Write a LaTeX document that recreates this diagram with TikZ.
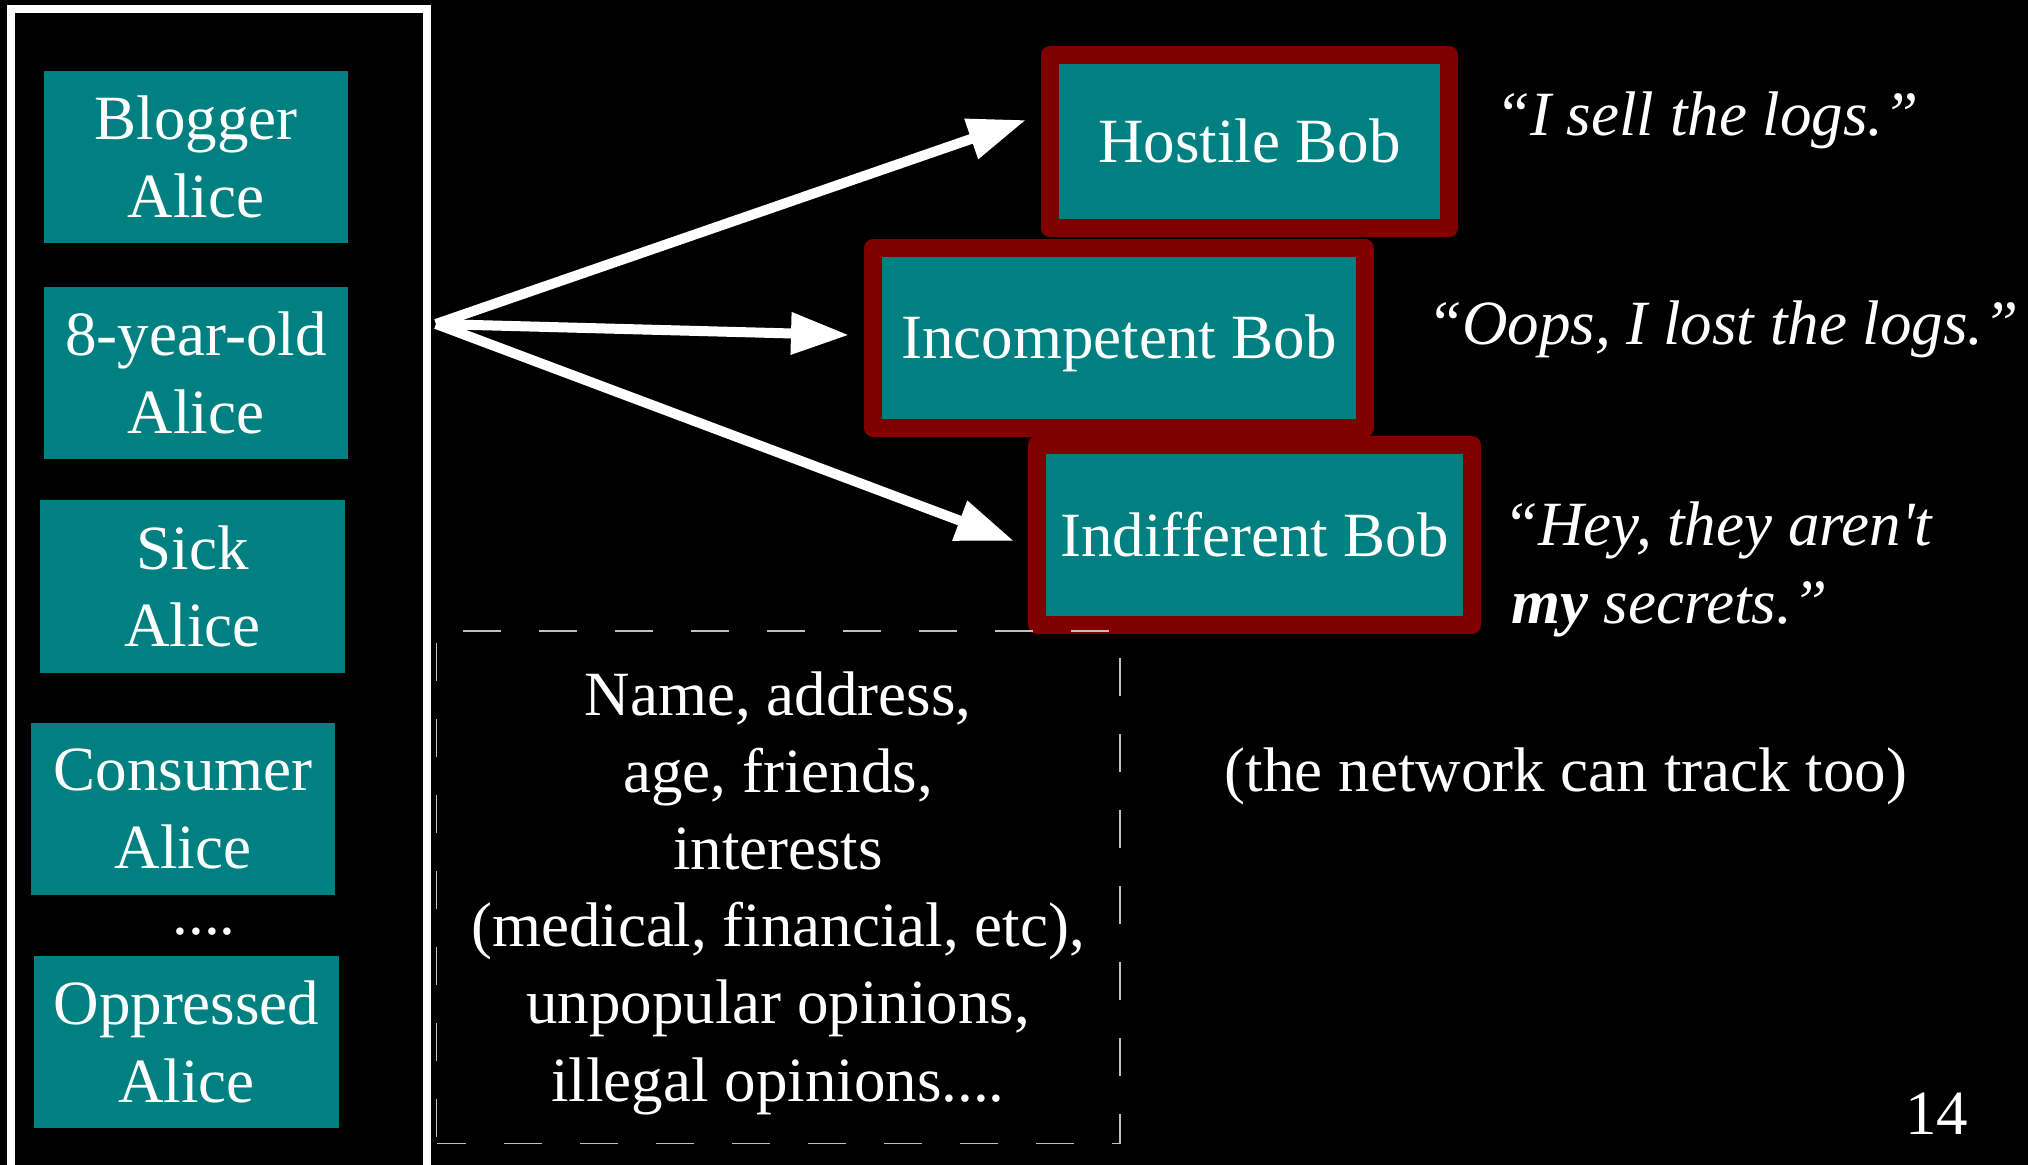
\documentclass[tikz,border=0pt]{standalone}
\usepackage{fontspec}
\setmainfont{Liberation Serif}
\usetikzlibrary{arrows.meta}
\definecolor{slideteal}{HTML}{008080}
\definecolor{slidemaroon}{HTML}{800000}
\definecolor{dashgray}{gray}{0.75}

\begin{document}
\begin{tikzpicture}[x=0.5pt, y=-0.5pt,
  every node/.style={text=white, font=\fontsize{31.5pt}{38.6pt}\selectfont, inner sep=0pt, outer sep=0pt},
  alice/.style={fill=slideteal, align=center, minimum width=152pt, minimum height=86pt},
  bob/.style={fill=slideteal, draw=slidemaroon, line width=9pt, line join=round, text height=21pt, text depth=0pt},
  quote/.style={font=\fontsize{31.5pt}{39pt}\selectfont\itshape, anchor=base west},
  plain/.style={anchor=base},
  link/.style={draw=white, line width=5pt, -{Triangle[length=29pt,width=20pt]}},
  frame/.style={draw=white, line width=4pt},
  infobox/.style={draw=dashgray, line width=0.8pt, dash pattern=on 19pt off 19pt, dash phase=4.5pt}
]
\useasboundingbox (0,0) rectangle (2028,1165);
\fill[black] (0,0) rectangle (2028,1165);

% the group of Alices, framed in white and running off the bottom edge
\node[frame, minimum width=208pt, minimum height=583pt] (alices) at (219,592) {};
\node[alice] (blogger) at (196,157) {Blogger\\Alice};
\node[alice] (eight) at (196,373) {8-year-old\\Alice};
\node[alice, minimum width=152.5pt] (sick) at (192.5,586.5) {Sick\\Alice};
\node[alice] (consumer) at (183,809) {Consumer\\Alice};
\node[plain] (more) at (204,934) {....};
\node[alice, minimum width=152.5pt] (oppressed) at (186.5,1042) {Oppressed\\Alice};

% the three Bobs
\node[bob, minimum width=199.5pt, minimum height=86.5pt] (hostile) at (1249.5,141.5) {Hostile Bob};
\node[bob, minimum width=246pt, minimum height=90pt] (incompetent) at (1119,338) {Incompetent Bob};
\node[bob, minimum width=217.5pt, minimum height=89.75pt] (indifferent) at (1254.5,535.25) {Indifferent Bob};

% arrows fanning out from the Alice group
\coordinate (src) at (436,324);
\coordinate (tipH) at (1026,120);
\coordinate (tipC) at (849,335);
\coordinate (tipD) at (1014,541);
\draw[link] (src) -- (tipH);
\draw[link] (src) -- (tipC);
\draw[link] (src) -- (tipD);

% what each Bob says (a two-line node sits on the baseline of its last line)
\node[quote] (q1) at (1495,136) {“I sell the logs.”};
\node[quote] (q2) at (1427,344.5) {“Oops, I lost the logs.”};
\node[quote, align=left] (q3) at (1503,623) {“Hey, they aren\textquotesingle t\\\hspace*{4pt}\textbf{my} secrets.”};

\node[plain] (network) at (1566,791) {(the network can track too)};

% the data that leaks
\node[infobox, minimum width=341.75pt, minimum height=256.25pt] (info) at (778.25,887.25) {};
\node[align=center] (infotext) at (778,893) {Name, address,\\age, friends,\\interests\\(medical, financial, etc),\\unpopular opinions,\\illegal opinions....};

\node[anchor=base east] (page) at (1968,1134) {14};
\end{tikzpicture}
\end{document}
